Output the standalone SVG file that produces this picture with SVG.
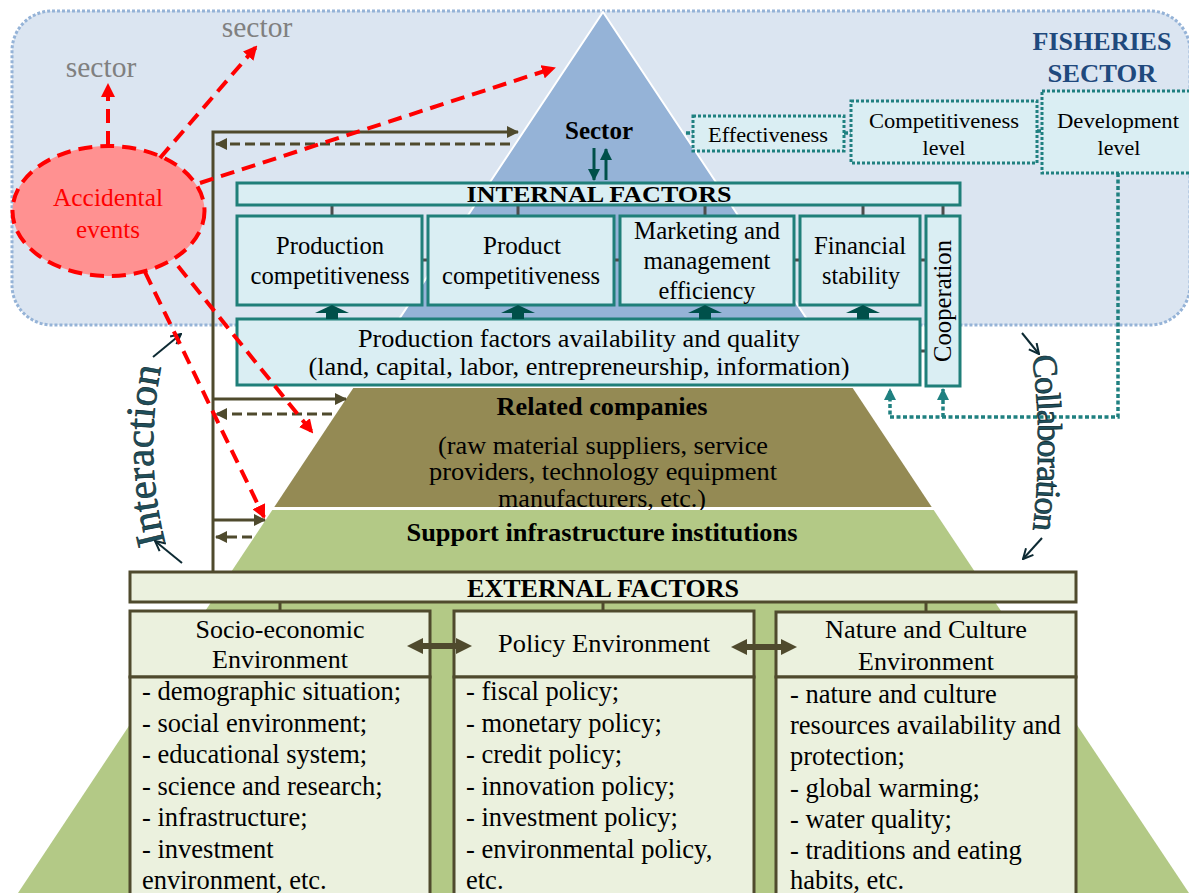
<svg xmlns="http://www.w3.org/2000/svg" width="1189" height="893" viewBox="0 0 1189 893">
<style>
text{font-family:"Liberation Serif","Times New Roman",serif;fill:#000;}
.c{text-anchor:middle;}
.m{font-size:24.5px;}
.b{font-weight:bold;}
.l{font-size:26.5px;}
.tealbox{fill:#daeef3;stroke:#1f7f79;stroke-width:3;}
.dotbox{fill:#daeef3;stroke:#1f8080;stroke-width:3;stroke-dasharray:3 2;}
.olivebox{fill:#ebf1de;stroke:#4f4a2d;stroke-width:3;}
.tick{stroke:#4d4d4d;stroke-width:3;}
.conn{stroke:#4f4a2d;stroke-width:3;fill:none;}
.dash{stroke-dasharray:10 5;}
.red{stroke:#ff0000;stroke-width:4;stroke-dasharray:14 8;fill:none;}
.tealdot{stroke:#1f8080;stroke-width:3.5;stroke-dasharray:4 2.5;fill:none;}
.curve{fill:#1f4f5c;stroke:#0a1f26;stroke-width:0.6;}
.thin{stroke:#0d2a33;stroke-width:2;fill:none;}
</style>
<defs>
<marker id="ra" viewBox="0 0 14 14" refX="12" refY="7" markerWidth="14" markerHeight="14" markerUnits="userSpaceOnUse" orient="auto"><path d="M0,0 L14,7 L0,14 z" fill="#ff0000"/></marker>
<marker id="oa" viewBox="0 0 12 12" refX="11" refY="6" markerWidth="12" markerHeight="12" markerUnits="userSpaceOnUse" orient="auto"><path d="M0,0 L12,6 L0,12 z" fill="#4f4a2d"/></marker>
<marker id="ta" viewBox="0 0 12 12" refX="11" refY="6" markerWidth="12" markerHeight="12" markerUnits="userSpaceOnUse" orient="auto"><path d="M0,0 L12,6 L0,12 z" fill="#1f8080"/></marker>
<marker id="da" viewBox="0 0 12 12" refX="11" refY="6" markerWidth="12" markerHeight="12" markerUnits="userSpaceOnUse" orient="auto"><path d="M0,0 L12,6 L0,12 z" fill="#00504a"/></marker>
<marker id="va" viewBox="0 0 12 12" refX="11" refY="6" markerWidth="12" markerHeight="12" markerUnits="userSpaceOnUse" orient="auto"><path d="M1,1 L11,6 L1,11" fill="none" stroke="#0d2a33" stroke-width="2"/></marker>
<path id="pInter" d="M166,546 Q142,453 163,358"/>
<path id="pColl" d="M1032,354 Q1044,445 1032,536"/>
</defs>

<g id="background">
<rect x="12" y="11" width="1178" height="314" rx="40" ry="40" fill="#dbe5f1" stroke="#95b3d7" stroke-width="3" stroke-dasharray="3 2"/>
</g>

<g id="pyramid">
<polygon id="sector-layer" points="603,12 850.7,385 355.3,385" fill="#95b3d7" stroke="#ffffff" stroke-width="2"/>
<polygon id="related-layer" points="353.3,388 852.7,388 931.7,507 274.3,507" fill="#948a54"/>
<text class="c m b" x="602" y="415" textLength="211" lengthAdjust="spacingAndGlyphs">Related companies</text>
<text class="c m" x="603" y="454" textLength="330" lengthAdjust="spacingAndGlyphs">(raw material suppliers, service</text>
<text class="c m" x="603" y="480" textLength="348" lengthAdjust="spacingAndGlyphs">providers, technology equipment</text>
<text class="c m" x="602" y="507" textLength="208" lengthAdjust="spacingAndGlyphs">manufacturers, etc.)</text>
<polygon id="support-layer" points="272.3,510 933.7,510 1189,893 18,893" fill="#b3c986"/>
<text class="c m b" x="602" y="541" textLength="391" lengthAdjust="spacingAndGlyphs">Support infrastructure institutions</text>
<text class="c b" x="599" y="139" font-size="25">Sector</text>
</g>

<g id="fisheries-label">
<text class="c b" x="1102" y="50" font-size="26" style="fill:#1f497d" textLength="139" lengthAdjust="spacingAndGlyphs">FISHERIES</text>
<text class="c b" x="1102" y="82" font-size="26" style="fill:#1f497d" textLength="109" lengthAdjust="spacingAndGlyphs">SECTOR</text>
</g>

<g id="sector-labels">
<text class="c" x="101" y="77" font-size="29.5" style="fill:#808080">sector</text>
<text class="c" x="257" y="37" font-size="29.5" style="fill:#808080">sector</text>
</g>

<g id="connectors">
<path class="conn" d="M213,572 L213,132 L518,132" marker-end="url(#oa)"/>
<path class="conn dash" d="M510,144 L216,144" marker-end="url(#oa)"/>
<path class="conn" d="M213,399 L346,399" marker-end="url(#oa)"/>
<path class="conn dash" d="M332,414 L216,414" marker-end="url(#oa)"/>
<path class="conn" d="M213,520 L265,520" marker-end="url(#oa)"/>
<path class="conn dash" d="M252,537 L216,537" marker-end="url(#oa)"/>
<path d="M594,148 L594,180" stroke="#00504a" stroke-width="3" marker-end="url(#da)"/>
<path d="M606,180 L606,149" stroke="#00504a" stroke-width="3" marker-end="url(#da)"/>
<path class="tealdot" d="M686,133 L693,133 M844,133 L851,133 M1037,131 L1042,131"/>
<path class="tealdot" d="M1118,173 L1118,417 L890,417 L890,389" marker-end="url(#ta)"/>
<path class="tealdot" d="M943,417 L943,389" marker-end="url(#ta)"/>
<path class="thin" d="M153,357 L181,334" marker-end="url(#va)"/>
<path class="thin" d="M182,563 L155,541" marker-end="url(#va)"/>
<path class="thin" d="M1022,333 L1039,354" marker-end="url(#va)"/>
<path class="thin" d="M1042,538 L1023,559" marker-end="url(#va)"/>
</g>

<g id="interaction-label">
<text font-size="41" class="curve"><textPath href="#pInter" startOffset="3">Interaction</textPath></text>
</g>
<g id="collaboration-label">
<text font-size="35" class="curve" letter-spacing="-1.5"><textPath href="#pColl" startOffset="2">Collaboration</textPath></text>
</g>

<g id="effectiveness">
<rect class="dotbox" x="693" y="116" width="151" height="35"/>
<text class="c" x="768" y="142" font-size="22" textLength="120" lengthAdjust="spacingAndGlyphs">Effectiveness</text>
</g>
<g id="competitiveness-level">
<rect class="dotbox" x="851" y="101" width="186" height="62"/>
<text class="c" x="944" y="128" font-size="22" textLength="150" lengthAdjust="spacingAndGlyphs">Competitiveness</text>
<text class="c" x="944" y="155" font-size="22">level</text>
</g>
<g id="development-level">
<rect class="dotbox" x="1042" y="91" width="160" height="82"/>
<text class="c" x="1118" y="128" font-size="22" textLength="122" lengthAdjust="spacingAndGlyphs">Development</text>
<text class="c" x="1119" y="155" font-size="22">level</text>
</g>

<g id="internal-factors">
<line class="tick" x1="332" y1="205" x2="332" y2="216"/>
<line class="tick" x1="518" y1="205" x2="518" y2="216"/>
<line class="tick" x1="705" y1="205" x2="705" y2="216"/>
<line class="tick" x1="863" y1="205" x2="863" y2="216"/>
<line class="tick" x1="943" y1="205" x2="943" y2="216"/>
<line class="tick" x1="422" y1="260" x2="428" y2="260"/>
<line class="tick" x1="614" y1="260" x2="620" y2="260"/>
<line class="tick" x1="794" y1="260" x2="800" y2="260"/>
<line class="tick" x1="920" y1="260" x2="926" y2="260"/>
<line class="tick" x1="920" y1="351" x2="926" y2="351"/>
<rect class="tealbox" x="237" y="183" width="723" height="22"/>
<text class="c b" x="599" y="202" font-size="24" textLength="265" lengthAdjust="spacingAndGlyphs">INTERNAL FACTORS</text>
</g>
<g id="production-competitiveness">
<rect class="tealbox" x="237" y="216" width="185" height="89"/>
<text class="c m" x="330" y="254" textLength="108" lengthAdjust="spacingAndGlyphs">Production</text>
<text class="c m" x="330" y="284" textLength="159" lengthAdjust="spacingAndGlyphs">competitiveness</text>
</g>
<g id="product-competitiveness">
<rect class="tealbox" x="428" y="216" width="186" height="89"/>
<text class="c m" x="522" y="254" textLength="78" lengthAdjust="spacingAndGlyphs">Product</text>
<text class="c m" x="521" y="284" textLength="158" lengthAdjust="spacingAndGlyphs">competitiveness</text>
</g>
<g id="marketing-efficiency">
<rect class="tealbox" x="620" y="216" width="174" height="89"/>
<text class="c m" x="707" y="239" textLength="146" lengthAdjust="spacingAndGlyphs">Marketing and</text>
<text class="c m" x="707" y="269" textLength="127" lengthAdjust="spacingAndGlyphs">management</text>
<text class="c m" x="707" y="299" textLength="97" lengthAdjust="spacingAndGlyphs">efficiency</text>
</g>
<g id="financial-stability">
<rect class="tealbox" x="800" y="216" width="120" height="89"/>
<text class="c m" x="860" y="254" textLength="92" lengthAdjust="spacingAndGlyphs">Financial</text>
<text class="c m" x="861" y="284" textLength="78" lengthAdjust="spacingAndGlyphs">stability</text>
</g>
<g id="cooperation">
<rect class="tealbox" x="926" y="216" width="34" height="170"/>
<text class="c m" x="951" y="301" transform="rotate(-90 951 301)" textLength="122" lengthAdjust="spacingAndGlyphs">Cooperation</text>
</g>
<g id="production-factors">
<rect class="tealbox" x="237" y="319" width="683" height="66"/>
<text class="c m" x="579" y="347" textLength="442" lengthAdjust="spacingAndGlyphs">Production factors availability and quality</text>
<text class="c m" x="579" y="375" textLength="541" lengthAdjust="spacingAndGlyphs">(land, capital, labor, entrepreneurship, information)</text>
<g fill="#00504a">
<polygon points="332,305 349,313 338,313 338,319 326,319 326,313 315,313"/>
<polygon points="518,305 535,313 524,313 524,319 512,319 512,313 501,313"/>
<polygon points="705,305 722,313 711,313 711,319 699,319 699,313 688,313"/>
<polygon points="863,305 880,313 869,313 869,319 857,319 857,313 846,313"/>
</g>
</g>

<g id="external-factors">
<line class="conn" x1="280" y1="602" x2="280" y2="611"/>
<line class="conn" x1="603" y1="602" x2="603" y2="611"/>
<line class="conn" x1="926" y1="602" x2="926" y2="612"/>
<rect class="olivebox" x="130" y="572" width="946" height="30"/>
<text class="c b" x="603" y="597" font-size="25" textLength="272" lengthAdjust="spacingAndGlyphs">EXTERNAL FACTORS</text>
</g>
<g id="socio-economic">
<rect class="olivebox" x="130" y="611" width="300" height="66"/>
<rect class="olivebox" x="130" y="677" width="300" height="230"/>
<text class="c" x="280" y="638" font-size="26">Socio-economic</text>
<text class="c" x="280" y="668" font-size="26">Environment</text>
<text class="l" x="142" y="700">- demographic situation;</text>
<text class="l" x="142" y="731.5">- social environment;</text>
<text class="l" x="142" y="763">- educational system;</text>
<text class="l" x="142" y="794.5">- science and research;</text>
<text class="l" x="142" y="826">- infrastructure;</text>
<text class="l" x="142" y="857.5">- investment</text>
<text class="l" x="142" y="889">environment, etc.</text>
</g>
<g id="policy">
<rect class="olivebox" x="454" y="611" width="300" height="66"/>
<rect class="olivebox" x="454" y="677" width="300" height="230"/>
<text class="c" x="604" y="652" font-size="26" textLength="212" lengthAdjust="spacingAndGlyphs">Policy Environment</text>
<text class="l" x="466" y="700">- fiscal policy;</text>
<text class="l" x="466" y="731.5">- monetary policy;</text>
<text class="l" x="466" y="763">- credit policy;</text>
<text class="l" x="466" y="794.5">- innovation policy;</text>
<text class="l" x="466" y="826">- investment policy;</text>
<text class="l" x="466" y="857.5">- environmental policy,</text>
<text class="l" x="466" y="889">etc.</text>
</g>
<g id="nature-culture">
<rect class="olivebox" x="776" y="612" width="300" height="65"/>
<rect class="olivebox" x="776" y="677" width="300" height="230"/>
<text class="c" x="926" y="638" font-size="26" textLength="202" lengthAdjust="spacingAndGlyphs">Nature and Culture</text>
<text class="c" x="926" y="670" font-size="26">Environment</text>
<text class="l" x="790" y="703">- nature and culture</text>
<text class="l" x="790" y="734">resources availability and</text>
<text class="l" x="790" y="765">protection;</text>
<text class="l" x="790" y="797">- global warming;</text>
<text class="l" x="790" y="828">- water quality;</text>
<text class="l" x="790" y="859">- traditions and eating</text>
<text class="l" x="790" y="889">habits, etc.</text>
</g>
<g id="external-arrows" fill="#4f4a2d">
<polygon points="407,646 423,638 423,643 456,643 456,638 472,646 456,654 456,649 423,649 423,654"/>
<polygon points="731,647 747,639 747,644 781,644 781,639 797,647 781,655 781,650 747,650 747,655"/>
</g>

<g id="accidental-events">
<ellipse cx="108.5" cy="211" rx="96" ry="65" fill="#ff9191" stroke="#ff0000" stroke-width="4" stroke-dasharray="14 8"/>
<text class="c" x="108" y="206" font-size="25" style="fill:#ff0000" textLength="110" lengthAdjust="spacingAndGlyphs">Accidental</text>
<text class="c" x="108" y="238" font-size="25" style="fill:#ff0000">events</text>
</g>
<g id="accidental-connectors">
<path class="red" d="M108,145 L108,85" marker-end="url(#ra)"/>
<path class="red" d="M160,158 L256,47" marker-end="url(#ra)"/>
<path class="red" d="M200,183 L554,68" marker-end="url(#ra)"/>
<path class="red" d="M145,272 L264,517" marker-end="url(#ra)"/>
<path class="red" d="M178,266 L312,432" marker-end="url(#ra)"/>
</g>
</svg>
